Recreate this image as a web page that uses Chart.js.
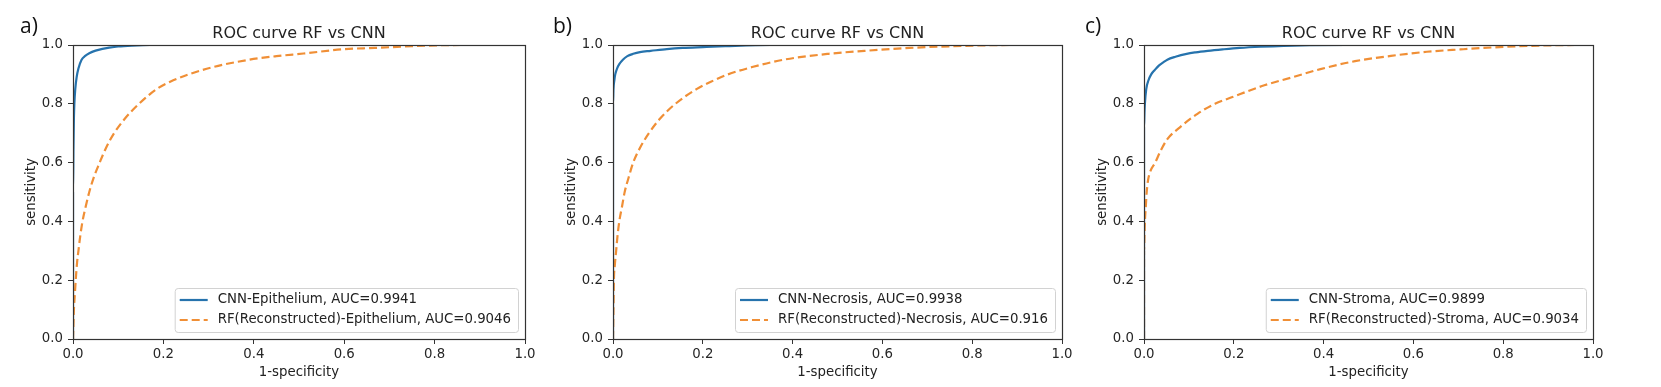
<!DOCTYPE html>
<html>
<head>
<meta charset="utf-8">
<title>ROC curve RF vs CNN</title>
<script src="https://cdn.jsdelivr.net/npm/chart.js@4.4.1/dist/chart.umd.min.js"></script>
<style>
  html, body { margin: 0; padding: 0; background: #fff; }
  #wrap { position: relative; width: 1661px; height: 387px; overflow: hidden; }
  #wrap canvas { position: absolute; top: 0; }
  .tag { position: absolute; top: 14px; font: 21px "Open Sans", sans-serif; color: #111; line-height: 1.1; }
</style>
</head>
<body>
<div id="wrap">
  <canvas id="rocA" width="545" height="387" style="left:0px"></canvas>
  <canvas id="rocB" width="542" height="387" style="left:540px"></canvas>
  <canvas id="rocC" width="542" height="387" style="left:1071px"></canvas>
  <div class="tag" style="left:20px">a)</div>
  <div class="tag" style="left:553px">b)</div>
  <div class="tag" style="left:1085px">c)</div>
</div>
<script>
// =============================
// Data
// =============================
const tickVals   = [0, 0.2, 0.4, 0.6, 0.8, 1.0];
const tickLabels = ['0.0', '0.2', '0.4', '0.6', '0.8', '1.0'];

const titleText = 'ROC curve RF vs CNN';
const xTitle = '1-specificity';
const yTitle = 'sensitivity';

// a) Epithelium
const cnnEpiFpr = [0, 0, 0.001, 0.002, 0.003, 0.005, 0.008, 0.012, 0.019, 0.027, 0.036, 0.05, 0.065, 0.08, 0.1, 0.13, 0.17, 1];
const cnnEpiTpr = [0, 0.5, 0.65, 0.75, 0.8, 0.85, 0.89, 0.92, 0.95, 0.963, 0.972, 0.981, 0.987, 0.991, 0.995, 0.998, 1, 1];
const rfEpiFpr  = [0, 0.001, 0.002, 0.004, 0.006, 0.009, 0.012, 0.016, 0.021, 0.028, 0.036, 0.046, 0.059, 0.073, 0.091, 0.115, 0.146, 0.185, 0.215, 0.256, 0.31, 0.39, 0.45, 0.51, 0.6, 0.667, 0.75, 0.86, 1];
const rfEpiTpr  = [0, 0.05, 0.1, 0.15, 0.2, 0.26, 0.3, 0.35, 0.4, 0.45, 0.5, 0.55, 0.6, 0.65, 0.7, 0.75, 0.8, 0.85, 0.875, 0.9, 0.925, 0.95, 0.962, 0.971, 0.986, 0.99, 0.996, 1, 1];
const labelsA = ['CNN-Epithelium, AUC=0.9941', 'RF(Reconstructed)-Epithelium, AUC=0.9046'];

// b) Necrosis
const cnnNecFpr = [0, 0, 0.001, 0.003, 0.005, 0.009, 0.014, 0.022, 0.032, 0.045, 0.06, 0.084, 0.12, 0.155, 0.2, 0.25, 0.35, 1];
const cnnNecTpr = [0, 0.8, 0.85, 0.88, 0.9, 0.92, 0.935, 0.95, 0.962, 0.97, 0.976, 0.98, 0.986, 0.99, 0.993, 0.996, 1, 1];
const rfNecFpr  = [0, 0.001, 0.002, 0.004, 0.007, 0.01, 0.014, 0.02, 0.026, 0.035, 0.045, 0.06, 0.08, 0.105, 0.139, 0.186, 0.218, 0.256, 0.31, 0.38, 0.48, 0.56, 0.66, 0.78, 0.9, 1];
const rfNecTpr  = [0, 0.1, 0.2, 0.25, 0.3, 0.35, 0.4, 0.45, 0.5, 0.55, 0.6, 0.65, 0.7, 0.75, 0.8, 0.85, 0.875, 0.9, 0.925, 0.95, 0.97, 0.98, 0.99, 0.997, 1, 1];
const labelsB = ['CNN-Necrosis, AUC=0.9938', 'RF(Reconstructed)-Necrosis, AUC=0.916'];

// c) Stroma
const cnnStrFpr = [0, 0, 0.001, 0.002, 0.005, 0.01, 0.016, 0.024, 0.033, 0.042, 0.052, 0.07, 0.095, 0.115, 0.142, 0.175, 0.213, 0.26, 0.35, 0.45, 1];
const cnnStrTpr = [0, 0.72, 0.77, 0.8, 0.85, 0.88, 0.9, 0.915, 0.93, 0.94, 0.95, 0.96, 0.97, 0.975, 0.98, 0.985, 0.99, 0.994, 0.999, 1, 1];
const rfStrFpr  = [0, 0, 0.001, 0.002, 0.004, 0.006, 0.009, 0.014, 0.025, 0.037, 0.052, 0.08, 0.119, 0.158, 0.197, 0.268, 0.33, 0.393, 0.47, 0.55, 0.63, 0.705, 0.78, 0.86, 0.97, 1];
const rfStrTpr  = [0, 0.3, 0.35, 0.4, 0.45, 0.5, 0.54, 0.57, 0.6, 0.64, 0.68, 0.72, 0.766, 0.8, 0.823, 0.863, 0.89, 0.918, 0.945, 0.963, 0.977, 0.985, 0.992, 0.997, 1, 1];
const labelsC = ['CNN-Stroma, AUC=0.9899', 'RF(Reconstructed)-Stroma, AUC=0.9034'];

// =============================
// Helpers
// =============================
const BLUE = '#2673ad';
const ORANGE = '#f08f36';
const FONT = '"DejaVu Sans", sans-serif';
const toPoints = (fpr, tpr) => fpr.map((x, i) => ({ x, y: tpr[i] }));

// kotak hitam di sekeliling area plot (gaya matplotlib)
const framePlugin = {
  id: 'frame',
  afterDatasetsDraw(chart) {
    const { ctx, chartArea: a } = chart;
    ctx.save();
    ctx.strokeStyle = '#333';
    ctx.lineWidth = 1.2;
    ctx.strokeRect(Math.round(a.left) + 0.5, Math.round(a.top) + 0.5,
      Math.round(a.right - a.left), Math.round(a.bottom - a.top));
    ctx.restore();
  }
};

// legend di pojok kanan bawah, di dalam area plot
const legendBoxPlugin = {
  id: 'legendBox',
  afterDraw(chart) {
    const { ctx, chartArea: a } = chart;
    const sets = chart.data.datasets;
    ctx.save();
    ctx.font = '13.3px ' + FONT;
    const textW = Math.max(...sets.map(d => ctx.measureText(d.label).width));
    const w = textW + 50, h = 44;
    const x0 = a.right - 7 - w, y0 = a.bottom - 7 - h;

    ctx.beginPath();
    ctx.roundRect(x0 + 0.5, y0 + 0.5, w, h, 3);
    ctx.fillStyle = 'rgba(255,255,255,0.85)';
    ctx.fill();
    ctx.strokeStyle = '#d2d2d2';
    ctx.lineWidth = 1;
    ctx.stroke();

    sets.forEach((d, i) => {
      const y = y0 + 12 + i * 20;
      ctx.beginPath();
      ctx.setLineDash(d.borderDash || []);
      ctx.strokeStyle = d.borderColor;
      ctx.lineWidth = d.borderWidth;
      ctx.moveTo(x0 + 5, y);
      ctx.lineTo(x0 + 33, y);
      ctx.stroke();
      ctx.setLineDash([]);
      ctx.fillStyle = '#222';
      ctx.textBaseline = 'middle';
      ctx.fillText(d.label, x0 + 43, y);
    });
    ctx.restore();
  }
};

function axis(titleText, isX) {
  return {
    type: 'linear',
    min: 0,
    max: 1,
    afterBuildTicks: (s) => { s.ticks = tickVals.map(v => ({ value: v })); },
    afterFit: (s) => { if (isX) s.height = 48; else s.width = 73; },
    grid: { display: true, drawOnChartArea: false, drawTicks: true, tickLength: 5, tickColor: '#333', tickWidth: 1 },
    border: { display: false },
    ticks: {
      padding: isX ? 3 : 5,
      color: '#262626',
      font: { family: FONT, size: 13.3 },
      maxRotation: 0,
      callback: (v, i) => tickLabels[i]
    },
    title: {
      display: true,
      text: titleText,
      color: '#222',
      font: { family: FONT, size: 13.3 },
      padding: isX ? { top: 0, bottom: 6 } : { top: 23.5, bottom: 0 }
    }
  };
}

// =============================
// Charts
// =============================
function renderRoc(id, cnnFpr, cnnTpr, rfFpr, rfTpr, labels) {
  const ctx = document.getElementById(id).getContext('2d');
  return new Chart(ctx, {
    type: 'line',
    data: {
      datasets: [
        { label: labels[0], data: toPoints(cnnFpr, cnnTpr), borderColor: BLUE, borderWidth: 2.2, order: 1 },
        { label: labels[1], data: toPoints(rfFpr, rfTpr), borderColor: ORANGE, borderWidth: 2.2, borderDash: [8, 4], order: 0 }
      ]
    },
    options: {
      responsive: false,
      animation: false,
      parsing: false,
      elements: { point: { radius: 0 }, line: { cubicInterpolationMode: 'monotone', fill: false } },
      layout: { padding: { left: 0, right: 20, top: 20, bottom: 0 } },
      scales: { x: axis(xTitle, true), y: axis(yTitle, false) },
      plugins: {
        legend: { display: false },
        tooltip: { enabled: false },
        title: {
          display: true,
          text: titleText,
          fullSize: false,
          color: '#222',
          font: { family: FONT, size: 16, weight: 'normal' },
          padding: { top: 4, bottom: 1.8 }
        }
      }
    },
    plugins: [framePlugin, legendBoxPlugin]
  });
}

renderRoc('rocA', cnnEpiFpr, cnnEpiTpr, rfEpiFpr, rfEpiTpr, labelsA);
renderRoc('rocB', cnnNecFpr, cnnNecTpr, rfNecFpr, rfNecTpr, labelsB);
renderRoc('rocC', cnnStrFpr, cnnStrTpr, rfStrFpr, rfStrTpr, labelsC);
</script>
</body>
</html>
